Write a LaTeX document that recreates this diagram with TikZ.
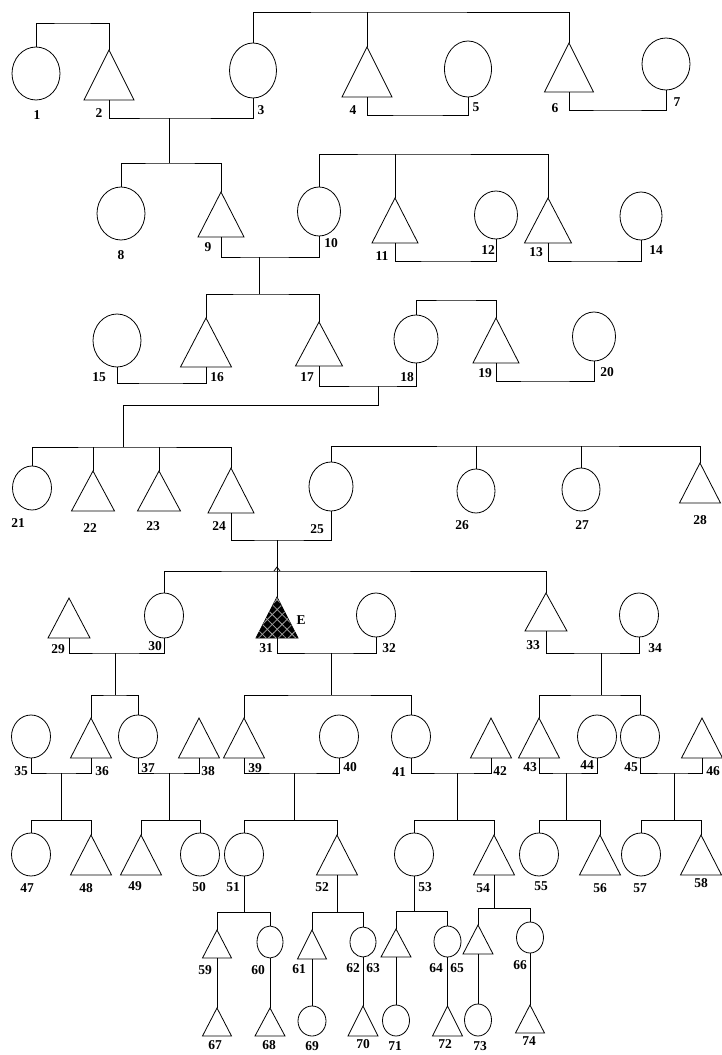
\documentclass[tikz,border=0pt]{standalone}
\usepackage{fontspec}
\setmainfont{Liberation Serif}
\usetikzlibrary{shapes.geometric,patterns.meta}

\begin{document}
\begin{tikzpicture}[
    x=1pt, y=-1pt,
    line width=0.8pt,
    fem/.style 2 args={draw, ellipse, inner sep=0, outer sep=0, minimum width=#1pt, minimum height=#2pt},
    male/.style 2 args={draw, isosceles triangle, isosceles triangle stretches, shape border rotate=90,
        inner sep=0, outer sep=0, minimum width=#1pt, minimum height=#2pt, anchor=apex},
    ego/.style={fill=black,
        postaction={pattern={Lines[angle=45,distance=7pt,line width=0.8pt]}, pattern color=gray!75},
        postaction={pattern={Lines[angle=-45,distance=7pt,line width=0.8pt]}, pattern color=gray!75}},
    num/.style={inner sep=0, font=\bfseries\fontsize{13.5}{13.5}\selectfont}
]
\useasboundingbox (0,0) rectangle (721,1055);

% Generation 1
\node[fem={48}{53}] (c1) at (36,73.5) {};
\node[male={50}{50}] (t2) at (109,50) {};
\node[fem={47}{55}] (c3) at (253,70.5) {};
\node[male={50}{50}] (t4) at (367,47) {};
\node[fem={47}{56}] (c5) at (468,69) {};
\node[male={49}{49}] (t6) at (569,43) {};
\node[fem={48}{52}] (c7) at (666,64) {};

% Generation 2
\node[fem={48}{53}] (c8) at (121,213.5) {};
\node[male={46}{45}] (t9) at (221,192) {};
\node[fem={43}{49}] (c10) at (319,211.5) {};
\node[male={46}{45}] (t11) at (395,198) {};
\node[fem={43}{48}] (c12) at (496,215) {};
\node[male={47}{45}] (t13) at (548,198) {};
\node[fem={42}{48}] (c14) at (641,216) {};

% Generation 3
\node[fem={48}{53}] (c15) at (117,340.5) {};
\node[male={51}{49}] (t16) at (206,318) {};
\node[male={47}{44}] (t17) at (319,322) {};
\node[fem={44}{48}] (c18) at (416,339) {};
\node[male={46}{45}] (t19) at (496,318) {};
\node[fem={43}{49}] (c20) at (594,336.5) {};

% Generation 4
\node[fem={39}{44}] (c21) at (32,488) {};
\node[male={43}{40}] (t22) at (93,471) {};
\node[male={43}{40}] (t23) at (159,471) {};
\node[male={46}{45}] (t24) at (231,468) {};
\node[fem={44}{49}] (c25) at (331,486.5) {};
\node[fem={38}{44}] (c26) at (476,491) {};
\node[fem={38}{43}] (c27) at (581,489.5) {};
\node[male={41}{40}] (t28) at (700,463) {};

% Generation 5
\node[male={42}{40}] (t29) at (69,598) {};
\node[fem={39}{45}] (c30) at (164,615.5) {};
\node[male={42}{41}, ego] (t31) at (277,597) {};
\node[fem={39}{44}] (c32) at (376,615) {};
\node[male={42}{38}] (t33) at (546,593) {};
\node[fem={39}{44}] (c34) at (639,615) {};

% Generation 6
\node[fem={39}{43}] (c35) at (31,736.5) {};
\node[male={41}{40}] (t36) at (91,718) {};
\node[fem={39}{43}] (c37) at (138,736.5) {};
\node[male={41}{40}] (t38) at (199,718) {};
\node[male={41}{40}] (t39) at (244,718) {};
\node[fem={39}{43}] (c40) at (339,736.5) {};
\node[fem={39}{43}] (c41) at (411,736.5) {};
\node[male={41}{40}] (t42) at (491,718) {};
\node[male={41}{40}] (t43) at (539,718) {};
\node[fem={39}{43}] (c44) at (597,736.5) {};
\node[fem={39}{43}] (c45) at (640,736.5) {};
\node[male={41}{40}] (t46) at (702,718) {};

% Generation 7
\node[fem={39}{43}] (c47) at (31,854.5) {};
\node[male={41}{40}] (t48) at (91,835) {};
\node[male={41}{40}] (t49) at (141,835) {};
\node[fem={39}{43}] (c50) at (200,854.5) {};
\node[fem={39}{43}] (c51) at (244,854.5) {};
\node[male={41}{40}] (t52) at (337,835) {};
\node[fem={39}{43}] (c53) at (414,854.5) {};
\node[male={41}{40}] (t54) at (494,835) {};
\node[fem={39}{43}] (c55) at (539,854.5) {};
\node[male={41}{40}] (t56) at (600,835) {};
\node[fem={39}{43}] (c57) at (641,854.5) {};
\node[male={41}{40}] (t58) at (701,835) {};

% Generation 8
\node[male={29}{28}] (t59) at (217,930) {};
\node[fem={26}{32}] (c60) at (270,942) {};
\node[male={29}{29}] (t61) at (312,930) {};
\node[fem={26}{30}] (c62) at (363,942) {};
\node[male={30}{28}] (t63) at (396,929) {};
\node[fem={27}{31}] (c64) at (447.5,941.5) {};
\node[male={30}{29}] (t65) at (478,925) {};
\node[fem={27}{31}] (c66) at (530,937.5) {};

% Generation 9
\node[male={29}{28}] (t67) at (217,1008) {};
\node[male={30}{28}] (t68) at (270,1008) {};
\node[fem={28}{30}] (c69) at (312,1021) {};
\node[male={30}{30}] (t70) at (363,1006) {};
\node[fem={27}{31}] (c71) at (396,1020.5) {};
\node[male={30}{30}] (t72) at (447.5,1006) {};
\node[fem={27}{32}] (c73) at (478,1020) {};
\node[male={29}{28}] (t74) at (530,1005) {};

% Numbers
\foreach \n/\x/\y in {1/37/115, 2/99/113, 3/261/110, 4/353/110, 5/476/107, 6/555/108, 7/677/102,
    8/121/255, 9/208/247, 10/331/243, 11/382/256, 12/488/250, 13/536/252, 14/656/250,
    15/99/377, 16/217/377, 17/307/377, 18/407/377, 19/485/373, 20/607/372,
    21/18/523, 22/90/528, 23/153/526, 24/219/526, 25/317/529, 26/462/525, 27/582/525, 28/700/520,
    29/58/649, 30/155/646, 31/266/648, 32/389/648, 33/533/645, 34/655/648,
    35/21/771, 36/102/771, 37/148/768, 38/208/771, 39/255/768, 40/350/767,
    41/399/772, 42/500/771, 43/530/767, 44/587/765, 45/631/767, 46/713/771,
    47/27/888, 48/86/888, 49/135/886, 50/199/887, 51/233/887, 52/322/887,
    53/425/887, 54/483/888, 55/541/886, 56/600/888, 57/640/888, 58/701/883,
    59/205/970, 60/258/970, 61/299/969, 62/353/968, 63/373/968, 64/436/968, 65/457/968, 66/520/965,
    67/215/1045, 68/269/1045, 69/312/1046, 70/363/1044, 71/395/1046, 72/445/1044, 73/480/1046, 74/529/1041}
    \node[num] (l\n) at (\x,\y) {\n};
\node[num] (ego_mark) at (301,620) {E};

% Junctions
\coordinate (s12) at (72,23);
\coordinate (s346) at (367,12);
\coordinate (m23) at (169,118);
\coordinate (m45) at (418,115);
\coordinate (m67) at (617,110);
\coordinate (s89) at (169,163);
\coordinate (s1013) at (395,154);
\coordinate (m910) at (259,257);
\coordinate (m1112) at (446,261);
\coordinate (m1314) at (594,261);
\coordinate (s1617) at (259,294);
\coordinate (s1819) at (456,300);
\coordinate (m1516) at (160,383);
\coordinate (m1718) at (378,386);
\coordinate (m1920) at (545,381);
\coordinate (s2124) at (123,447);
\coordinate (s2528) at (540,446);
\coordinate (m2425) at (277,540);
\coordinate (s3033) at (277,571);
\coordinate (m2930) at (115,653);
\coordinate (m3132) at (331,653);
\coordinate (m3334) at (601,653);
\coordinate (s3637) at (115,695);
\coordinate (s3941) at (331,695);
\coordinate (s4345) at (601,695);
\coordinate (m3536) at (61,773);
\coordinate (m3738) at (169,773);
\coordinate (m3940) at (294,773);
\coordinate (m4142) at (457,773);
\coordinate (m4344) at (566,773);
\coordinate (m4546) at (674,773);
\coordinate (s4748) at (61,820);
\coordinate (s4950) at (169,820);
\coordinate (s5152) at (294,820);
\coordinate (s5354) at (457,820);
\coordinate (s5556) at (566,820);
\coordinate (s5758) at (674,820);
\coordinate (s5960) at (244,912);
\coordinate (s6162) at (337,912);
\coordinate (s6364) at (414,911);
\coordinate (s6566) at (494,908);

% Generation 1 links
\draw (c1.north) |- (s12) -| (t2.apex);
\draw (c3.north) |- (s346) -| (t6.apex);
\draw (s346) -- (t4.apex);
\draw (t2.south) |- (m23) -| (c3.south);
\draw (t4.south) |- (m45) -| (c5.south);
\draw (t6.south) |- (m67) -| (c7.south);
\draw (m23) -- (s89);

% Generation 2 links
\draw (c8.north) |- (s89) -| (t9.apex);
\draw (c10.north) |- (s1013) -| (t13.apex);
\draw (s1013) -- (t11.apex);
\draw (t9.south) |- (m910) -| (c10.south);
\draw (t11.south) |- (m1112) -| (c12.south);
\draw (t13.south) |- (m1314) -| (c14.south);
\draw (m910) -- (s1617);

% Generation 3 links
\draw (t16.apex) |- (s1617) -| (t17.apex);
\draw (c18.north) |- (s1819) -| (t19.apex);
\draw (c15.south) |- (m1516) -| (t16.south);
\draw (t17.south) |- (m1718) -| (c18.south);
\draw (t19.south) |- (m1920) -| (c20.south);
\draw (m1718) -- ++(0,19) -| (s2124);

% Generation 4 links
\draw (c21.north) |- (s2124) -| (t24.apex);
\draw (t22.apex) -- (t22.apex |- s2124);
\draw (t23.apex) -- (t23.apex |- s2124);
\draw (c25.north) |- (s2528) -| (t28.apex);
\draw (c26.north) -- (c26.north |- s2528);
\draw (c27.north) -- (c27.north |- s2528);
\draw (t24.south) |- (m2425) -| (c25.south);
\draw (m2425) -- (t31.apex);

% Generation 5 links
\draw (c30.north) |- (s3033) -| (t33.apex);
\draw (s3033) ++(-3,0) -- ++(3,-4) -- ++(3,4);
\draw (t29.south) |- (m2930) -| (c30.south);
\draw (t31.south) |- (m3132) -| (c32.south);
\draw (t33.south) |- (m3334) -| (c34.south);
\draw (m2930) -- (s3637);
\draw (m3132) -- (s3941);
\draw (m3334) -- (s4345);

% Generation 6 links
\draw (t36.apex) |- (s3637) -| (c37.north);
\draw (t39.apex) |- (s3941) -| (c41.north);
\draw (t43.apex) |- (s4345) -| (c45.north);
\draw (c35.south) |- (m3536) -| (t36.south);
\draw (c37.south) |- (m3738) -| (t38.south);
\draw (t39.south) |- (m3940) -| (c40.south);
\draw (c41.south) |- (m4142) -| (t42.south);
\draw (t43.south) |- (m4344) -| (c44.south);
\draw (c45.south) |- (m4546) -| (t46.south);
\draw (m3536) -- (s4748);
\draw (m3738) -- (s4950);
\draw (m3940) -- (s5152);
\draw (m4142) -- (s5354);
\draw (m4344) -- (s5556);
\draw (m4546) -- (s5758);

% Generation 7 links
\draw (c47.north) |- (s4748) -| (t48.apex);
\draw (t49.apex) |- (s4950) -| (c50.north);
\draw (c51.north) |- (s5152) -| (t52.apex);
\draw (c53.north) |- (s5354) -| (t54.apex);
\draw (c55.north) |- (s5556) -| (t56.apex);
\draw (c57.north) |- (s5758) -| (t58.apex);
\draw (c51.south) -- (s5960);
\draw (t52.south) -- (s6162);
\draw (c53.south) -- (s6364);
\draw (t54.south) -- (s6566);

% Generation 8 links
\draw (t59.apex) |- (s5960) -| (c60.north);
\draw (t61.apex) |- (s6162) -| (c62.north);
\draw (t63.apex) |- (s6364) -| (c64.north);
\draw (t65.apex) |- (s6566) -| (c66.north);
\draw (t59.south) -- (t67.apex);
\draw (c60.south) -- (t68.apex);
\draw (t61.south) -- (c69.north);
\draw (c62.south) -- (t70.apex);
\draw (t63.south) -- (c71.north);
\draw (c64.south) -- (t72.apex);
\draw (t65.south) -- (c73.north);
\draw (c66.south) -- (t74.apex);

\end{tikzpicture}
\end{document}
